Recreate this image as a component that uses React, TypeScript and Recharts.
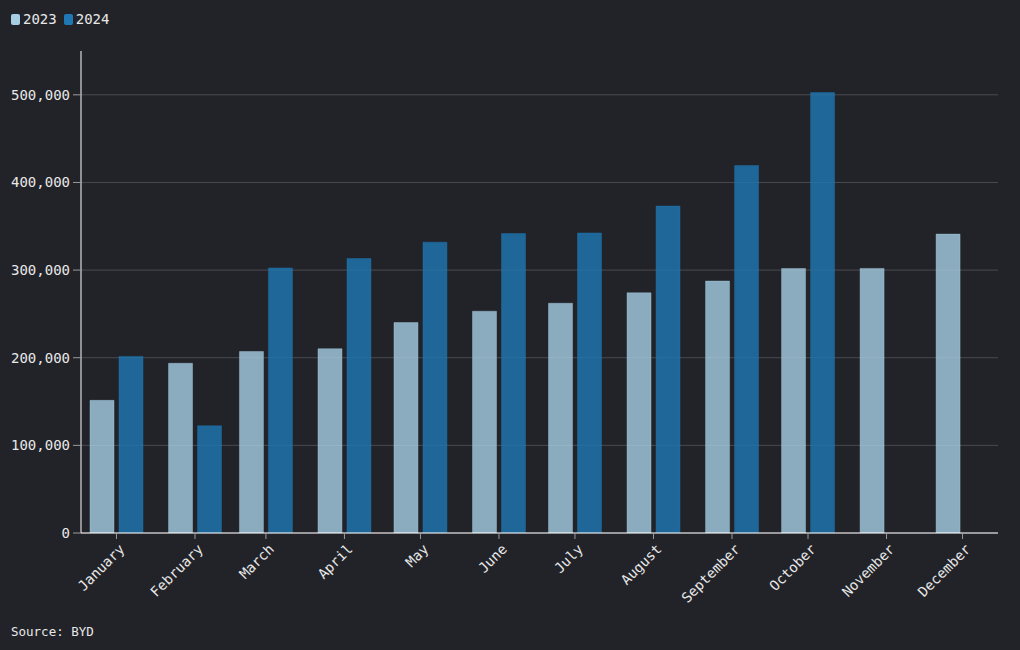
import { BarChart, Bar, XAxis, YAxis, CartesianGrid } from "recharts";

const months = ["January", "February", "March", "April", "May", "June", "July", "August", "September", "October", "November", "December"];
const sales2023 = [151341, 193655, 207080, 210295, 240220, 253046, 262161, 274086, 287454, 301833, 301903, 341043];
const sales2024: (number | null)[] = [201493, 122311, 302459, 313245, 331817, 341658, 342383, 373083, 419426, 502657, null, null];
const yTicks = [0, 100000, 200000, 300000, 400000, 500000];

const DAY = 86400000;
const BG = "#222328";
const TEXT = "#e8e8e8";
const FONT = "'DejaVu Sans Mono', monospace";
const C2023 = "#a6cee3";
const C2024 = "#1f78b4";

const data = months.map((m, i) => ({
  t: Date.UTC(2023, i, 1),
  month: m,
  y2023: sales2023[i],
  y2024: sales2024[i],
}));

const monthByTime = new Map(data.map(d => [d.t, d.month]));
const xTicks = data.map(d => d.t);
const xDomain = [Date.UTC(2023, 0, 1) - 14 * DAY, Date.UTC(2023, 11, 1) + 14 * DAY];

const MonthTick = (props: any) => {
  const { x, y, payload } = props;
  return (
    <text
      x={x + 2}
      y={y + 1}
      transform={`rotate(-45, ${x + 2}, ${y + 1})`}
      textAnchor="end"
      dy="0.71em"
      fill={TEXT}
      fontSize={14}
      fontFamily={FONT}
    >
      {monthByTime.get(payload.value)}
    </text>
  );
};

const LegendItem = ({ color, label }: { color: string; label: string }) => (
  <span style={{ display: "inline-flex", alignItems: "center", marginRight: 7 }}>
    <span style={{ display: "inline-block", width: 9, height: 11, background: color, borderRadius: 2, marginRight: 3 }} />
    <span>{label}</span>
  </span>
);

export default function App() {
  return (
    <div style={{ position: "fixed", left: 0, top: 0, width: 1020, height: 650, background: BG, fontFamily: FONT, color: TEXT }}>
      <div style={{ position: "absolute", left: 11, top: 11, fontSize: 14, lineHeight: "16px", display: "flex" }}>
        <LegendItem color={C2023} label="2023" />
        <LegendItem color={C2024} label="2024" />
      </div>
      <BarChart
        width={1020}
        height={650}
        data={data}
        margin={{ top: 51, right: 22, bottom: 27, left: 10 }}
        barSize={24}
        barGap={5}
      >
        <CartesianGrid vertical={false} stroke="#4a4b50" strokeWidth={1} syncWithTicks />
        <XAxis
          dataKey="t"
          type="number"
          domain={xDomain}
          ticks={xTicks}
          allowDataOverflow
          height={90}
          stroke="#ffffff"
          tickLine={{ stroke: "#9a9ba0" }}
          tickSize={6}
          tickMargin={3}
          tick={<MonthTick />}
          interval={0}
        />
        <YAxis
          width={71}
          domain={[0, 550000]}
          ticks={yTicks}
          allowDataOverflow
          stroke="#ffffff"
          tickLine={{ stroke: "#9a9ba0" }}
          tickSize={8}
          tickMargin={3}
          tick={{ fill: TEXT, fontSize: 14, fontFamily: FONT }}
          tickFormatter={(v: number) => v.toLocaleString("en-US")}
        />
        <Bar dataKey="y2023" name="2023" fill={C2023} fillOpacity={0.8} stroke={C2023} strokeOpacity={0.4} isAnimationActive={false} />
        <Bar dataKey="y2024" name="2024" fill={C2024} fillOpacity={0.8} stroke={C2024} strokeOpacity={0.4} isAnimationActive={false} />
      </BarChart>
      <div style={{ position: "absolute", left: 11, top: 624, fontSize: 12.5 }}>Source: BYD</div>
    </div>
  );
}
